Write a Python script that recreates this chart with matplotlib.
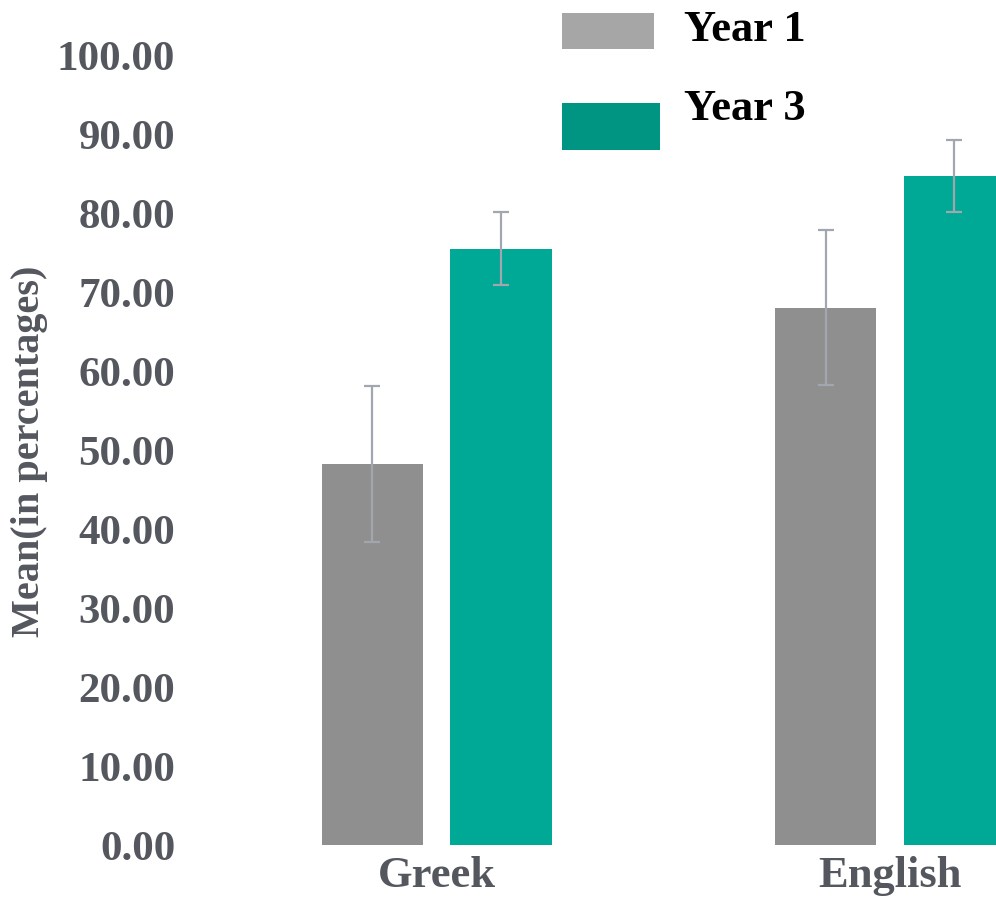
import matplotlib
matplotlib.use("Agg")
import matplotlib.pyplot as plt
import numpy as np
from matplotlib.patches import Rectangle

# data
categories = ["Greek", "English"]
series = ["Year 1", "Year 3"]
year1_mean = [48.3, 68.1]
year1_err = [9.9, 9.8]
year3_mean = [75.6, 84.8]
year3_err = [4.6, 4.6]
y_ticks = [0, 10, 20, 30, 40, 50, 60, 70, 80, 90, 100]

FONT = "Liberation Serif"
TICK_COLOR = "#54575E"
BAR_COLORS = ["#8F8F8F", "#00A896"]
LEGEND_COLORS = ["#A6A6A6", "#009482"]
ERR_COLOR = "#A2A6AE"

W, H = 996, 898
fig = plt.figure(figsize=(W / 100, H / 100), dpi=100)
ax = fig.add_axes([210 / W, 1 - 845 / H, 1 - 210 / W, (845 - 56) / H])

x = np.arange(len(categories))
width = 0.223
offset = 0.142
err_kw = dict(ecolor=ERR_COLOR, elinewidth=1.6, capsize=5.8, capthick=1.6)
ax.bar(x - offset, year1_mean, width, yerr=year1_err, color=BAR_COLORS[0],
       error_kw=err_kw, zorder=2)
ax.bar(x + offset, year3_mean, width, yerr=year3_err, color=BAR_COLORS[1],
       error_kw=err_kw, zorder=2)

ax.set_xlim(-0.5, 1.234)
ax.set_ylim(0, 100)
ax.set_yticks(y_ticks)
ax.set_yticklabels([f"{v:.2f}" for v in y_ticks], fontfamily=FONT,
                   fontweight="bold", fontsize=31, color=TICK_COLOR)
ax.set_xticks(x)
ax.set_xticklabels(categories, fontfamily=FONT, fontweight="bold",
                   fontsize=32, color=TICK_COLOR)
ax.tick_params(axis="y", length=0, pad=25)
ax.tick_params(axis="x", length=0, pad=8)
for s in ax.spines.values():
    s.set_visible(False)

fig.text(30 / W, 1 - 451 / H, "Mean(in percentages)", rotation=90,
         ha="center", va="center", fontfamily=FONT, fontweight="bold",
         fontsize=29, color=TICK_COLOR)

# legend drawn by hand (the two swatches differ in size in the reference)
swatches = [(562, 13, 92, 36), (562, 103, 98, 47)]
label_y = [30, 109]
for (sx, sy, sw, sh), col, lab, ly in zip(swatches, LEGEND_COLORS, series, label_y):
    fig.add_artist(Rectangle((sx / W, 1 - (sy + sh) / H), sw / W, sh / H,
                             transform=fig.transFigure, color=col, lw=0))
    fig.text(684 / W, 1 - ly / H, lab, ha="left", va="center",
             fontfamily=FONT, fontweight="bold", fontsize=32, color="black")

fig.savefig("out.png", dpi=100)
